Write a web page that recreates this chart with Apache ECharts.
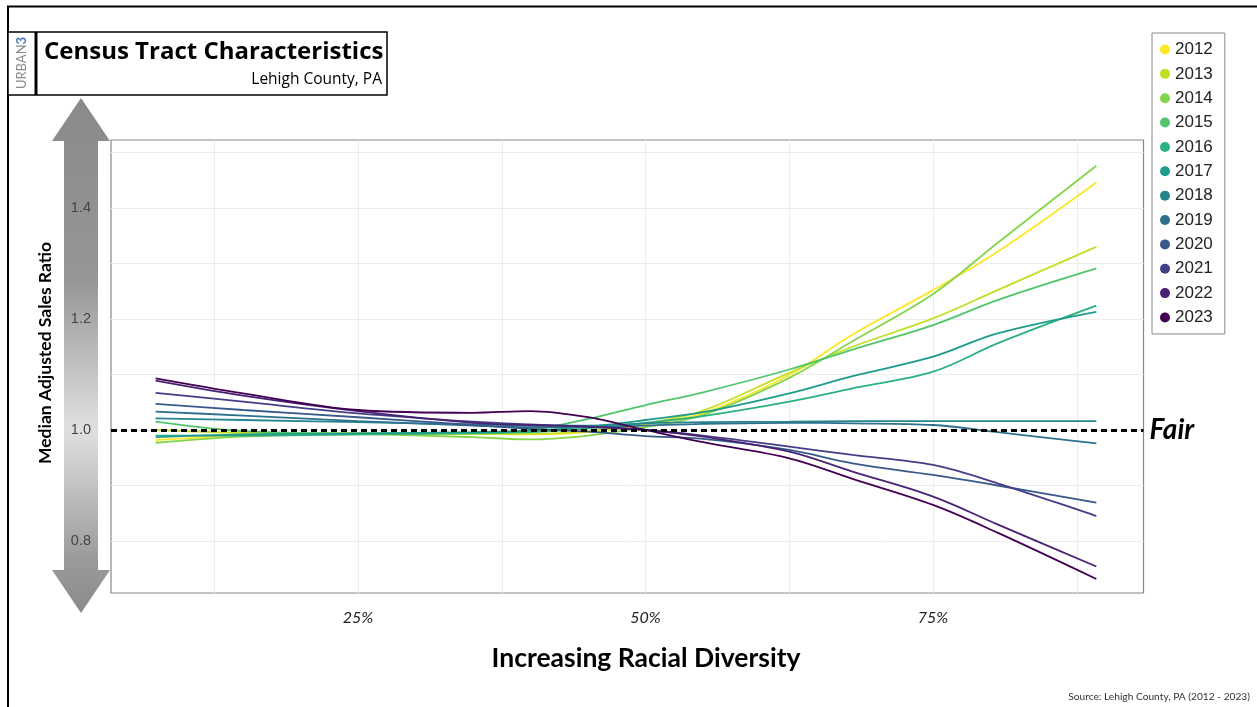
<!DOCTYPE html>
<html><head><meta charset="utf-8">
<script src="https://cdn.jsdelivr.net/npm/echarts@6/dist/echarts.min.js"></script>
<style>html,body{margin:0;padding:0;background:#fff}#c{width:1257px;height:707px}</style>
</head><body><div id="c"></div>
<script>
// ---- data ----
const years = ['2012','2013','2014','2015','2016','2017','2018','2019','2020','2021','2022','2023'];
const diversity = [7.4, 15, 25, 35, 40, 45, 50, 55, 62.5, 68, 75, 80.6, 89.2];
const r2012 = [0.982, 0.990, 0.994, 0.993, 0.992, 0.996, 1.010, 1.030, 1.099, 1.172, 1.252, 1.321, 1.446];
const r2013 = [1.000, 0.995, 0.994, 0.993, 0.993, 0.998, 1.012, 1.035, 1.103, 1.150, 1.201, 1.252, 1.330];
const r2014 = [0.977, 0.988, 0.992, 0.987, 0.983, 0.990, 1.005, 1.027, 1.094, 1.160, 1.245, 1.337, 1.476];
const r2015 = [1.015, 0.998, 0.994, 0.995, 1.000, 1.020, 1.045, 1.068, 1.109, 1.145, 1.189, 1.234, 1.291];
const r2016 = [0.990, 0.990, 0.992, 0.994, 0.996, 1.003, 1.013, 1.025, 1.051, 1.075, 1.105, 1.156, 1.224];
const r2017 = [0.987, 0.992, 0.994, 0.996, 0.999, 1.006, 1.018, 1.032, 1.066, 1.097, 1.132, 1.174, 1.213];
const r2018 = [1.021, 1.018, 1.014, 1.010, 1.008, 1.008, 1.012, 1.014, 1.015, 1.016, 1.016, 1.016, 1.016];
const r2019 = [1.033, 1.026, 1.016, 1.008, 1.005, 1.005, 1.008, 1.011, 1.013, 1.012, 1.009, 0.996, 0.976];
const r2020 = [1.047, 1.036, 1.023, 1.009, 1.002, 0.997, 0.989, 0.984, 0.964, 0.940, 0.919, 0.900, 0.869];
const r2021 = [1.067, 1.051, 1.030, 1.015, 1.010, 1.006, 1.000, 0.990, 0.970, 0.955, 0.937, 0.904, 0.845];
const r2022 = [1.089, 1.062, 1.034, 1.013, 1.009, 1.006, 1.000, 0.988, 0.961, 0.925, 0.880, 0.830, 0.754];
const r2023 = [1.093, 1.066, 1.036, 1.031, 1.034, 1.023, 1.000, 0.978, 0.949, 0.912, 0.865, 0.815, 0.7315];
const ratios = [r2012, r2013, r2014, r2015, r2016, r2017, r2018, r2019, r2020, r2021, r2022, r2023];
const colors = ['#FDE725','#C2DF23','#85D54A','#51C56A','#2BB07F','#1E9B8A','#25858E','#2D708E','#38598C','#433E85','#482173','#440154'];
const xGridValues = [12.5, 25, 37.5, 50, 62.5, 75, 87.5];
const xLabelValues = [25, 50, 75];
const yGridValues = [0.8, 0.9, 1.0, 1.1, 1.2, 1.3, 1.4, 1.5];
const yLabelValues = [0.8, 1.0, 1.2, 1.4];
const fairRatio = 1.0;

const chart = echarts.init(document.getElementById('c'), null, {renderer: 'canvas'});

const series = years.map((y, k) => ({
  name: y,
  type: 'line',
  smooth: 0.35,
  showSymbol: false,
  symbol: 'circle',
  color: colors[k],
  lineStyle: {width: 1.8, color: colors[k]},
  data: diversity.map((x, i) => [x, ratios[k][i]]),
  z: 3
}));
series.push({
  name: 'Fair',
  type: 'line',
  data: [],
  z: 10,
  markLine: {
    silent: true,
    symbol: ['none', 'none'],
    data: [{yAxis: fairRatio}],
    lineStyle: {color: '#000', type: [6, 4], width: 3},
    label: {
      show: true, position: 'end', formatter: 'Fair', distance: 6,
      fontFamily: 'Lato', fontSize: 28, fontWeight: 'bold', fontStyle: 'italic', color: '#000'
    }
  }
});

const arrowGrad = new echarts.graphic.LinearGradient(0, 0, 0, 1, [
  {offset: 0, color: '#8a8a8a'},
  {offset: 0.35, color: '#969696'},
  {offset: 0.645, color: '#e0e0e0'},
  {offset: 0.9, color: '#9a9a9a'},
  {offset: 1, color: '#8a8a8a'}
]);

chart.setOption({
  animation: false,
  backgroundColor: '#fff',
  grid: {left: 111, right: 113.5, top: 140, bottom: 114, show: true, borderColor: '#888', borderWidth: 1.2, backgroundColor: 'transparent'},
  xAxis: {
    type: 'value', min: 3.52, max: 93.3,
    axisLine: {show: false},
    axisTick: {show: false, customValues: xGridValues},
    splitLine: {show: true, lineStyle: {color: '#ececec', width: 1}},
    axisLabel: {
      customValues: xLabelValues, margin: 17,
      formatter: v => Math.round(v) + '%',
      fontFamily: 'Lato', fontStyle: 'italic', fontSize: 16, color: '#222'
    }
  },
  yAxis: {
    type: 'value', min: 0.7063, max: 1.5225,
    axisLine: {show: false},
    axisTick: {show: false, customValues: yGridValues},
    splitLine: {show: true, lineStyle: {color: '#ececec', width: 1}},
    axisLabel: {
      customValues: yLabelValues, margin: 20,
      formatter: v => v.toFixed(1),
      fontFamily: 'Liberation Sans, Arial, sans-serif', fontSize: 14.5, color: '#444'
    }
  },
  legend: {
    data: years,
    orient: 'vertical',
    left: 1152, top: 33,
    padding: [8, 12, 8, 8],
    itemGap: 7.36,
    itemWidth: 10, itemHeight: 10,
    icon: 'circle',
    borderColor: '#888', borderWidth: 1, backgroundColor: '#fff',
    textStyle: {fontFamily: 'Liberation Sans, Arial, sans-serif', fontSize: 17, lineHeight: 17, color: '#222'}
  },
  graphic: [
    {type: 'polyline', z: 20, shape: {points: [[8, 707], [8, 6.5], [1257, 6.5]]}, style: {stroke: '#000', lineWidth: 2, fill: null}},
    {type: 'rect', z: 20, shape: {x: 8, y: 32, width: 379, height: 63}, style: {stroke: '#000', lineWidth: 1.5, fill: '#fff'}},
    {type: 'line', z: 21, shape: {x1: 36, y1: 32, x2: 36, y2: 95}, style: {stroke: '#000', lineWidth: 3}},
    {type: 'text', z: 21, x: 22, y: 63, rotation: Math.PI / 2,
      style: {text: '{a|URBAN}{b|3}', align: 'center', verticalAlign: 'middle',
        rich: {a: {fontFamily: 'Lato', fontSize: 13, fill: '#8a8a8a'}, b: {fontFamily: 'Lato', fontSize: 13, fontWeight: 'bold', fill: '#4a76b8'}}}},
    {type: 'text', z: 21, x: 44, y: 52,
      style: {text: 'Census Tract Characteristics', fontFamily: 'Open Sans', fontWeight: 'bold', fontSize: 24, fill: '#000', align: 'left', verticalAlign: 'middle'}},
    {type: 'text', z: 21, x: 382, y: 80,
      style: {text: 'Lehigh County, PA', fontFamily: 'Open Sans', fontSize: 15.5, fill: '#000', align: 'right', verticalAlign: 'middle'}},
    {type: 'polygon', z: -1,
      shape: {points: [[81, 98], [110, 141], [98, 141], [98, 570], [110, 570], [81, 613], [52, 570], [64, 570], [64, 141], [52, 141]]},
      style: {fill: arrowGrad}},
    {type: 'text', z: 21, x: 45, y: 353, rotation: Math.PI / 2,
      style: {text: 'Median Adjusted Sales Ratio', fontFamily: 'Lato', fontWeight: 'bold', fontSize: 17.5, fill: '#000', align: 'center', verticalAlign: 'middle'}},
    {type: 'text', z: 21, x: 646, y: 658,
      style: {text: 'Increasing Racial Diversity', fontFamily: 'Lato', fontWeight: 'bold', fontSize: 26.5, fill: '#000', align: 'center', verticalAlign: 'middle'}},
    {type: 'text', z: 21, x: 1250, y: 697,
      style: {text: 'Source: Lehigh County, PA (2012 - 2023)', fontFamily: 'Lato', fontSize: 10.2, fill: '#333', align: 'right', verticalAlign: 'middle'}}
  ],
  series: series
});
</script>
</body></html>
